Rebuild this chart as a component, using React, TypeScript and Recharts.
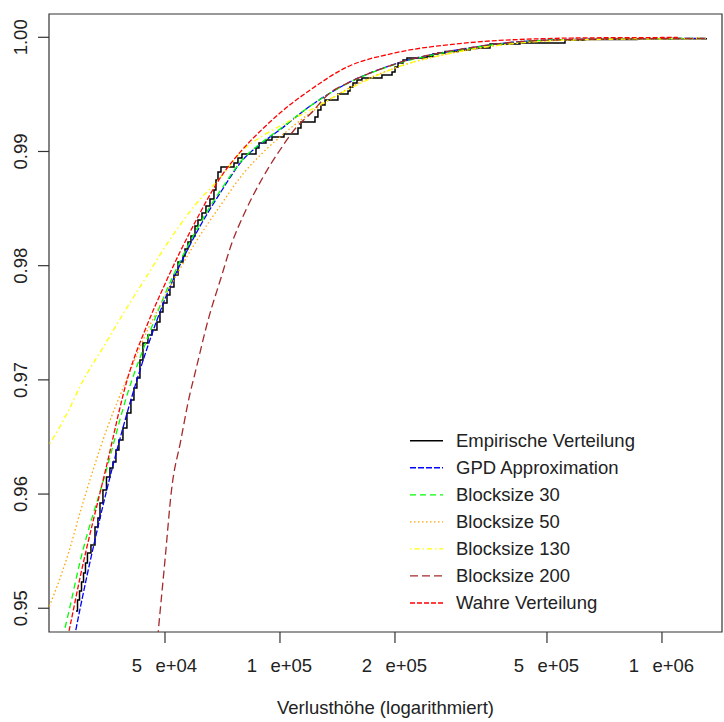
import { LineChart, Line, XAxis, YAxis, ReferenceArea, Legend } from "recharts";

document.body.style.margin = "0";

// axis ranges and ticks
const xMin = 24850;
const xMax = 1436000;
const yMin = 0.94792;
const yMax = 1.00204;
const xTicks = [50000, 100000, 200000, 500000, 1000000];
const xTickLabels = ["5  e+04", "1  e+05", "2  e+05", "5  e+05", "1  e+06"];
const yTicks = [0.95, 0.96, 0.97, 0.98, 0.99, 1.0];
const yTickLabels = ["0.95", "0.96", "0.97", "0.98", "0.99", "1.00"];

// fitted / true distribution curves
const lossGrid = [24000, 28000, 30000, 35000, 40000, 45000, 50000, 60000, 70000, 80000, 90000, 100000, 120000, 150000, 200000, 300000, 500000, 700000, 1000000, 1100000, 1310000];
const gpdProb = [0.93507, 0.94496, 0.95003, 0.96002, 0.96736, 0.97288, 0.97708, 0.98269, 0.98645, 0.98928, 0.99078, 0.99191, 0.99398, 0.99597, 0.99766, 0.99897, 0.99976, 0.99985, 0.99989, 0.9999, 0.99991];
const block30Prob = [0.94066, 0.94968, 0.95414, 0.96193, 0.96893, 0.97366, 0.97751, 0.98295, 0.98663, 0.98934, 0.99083, 0.99197, 0.99398, 0.99595, 0.99762, 0.99893, 0.99975, 0.99984, 0.99989, 0.9999, 0.99991];
const block50Prob = [0.94888, 0.95493, 0.95843, 0.96544, 0.97032, 0.97435, 0.97733, 0.98199, 0.98532, 0.98803, 0.98987, 0.99127, 0.99337, 0.99547, 0.99731, 0.9988, 0.99968, 0.99982, 0.99987, 0.99988, 0.9999];
const block130Prob = [0.9635, 0.96736, 0.96946, 0.97323, 0.97647, 0.97918, 0.98164, 0.98532, 0.98777, 0.99013, 0.99136, 0.99223, 0.99363, 0.99539, 0.99731, 0.9988, 0.99968, 0.99982, 0.99987, 0.99988, 0.9999];
const trueProb = [0.93848, 0.94793, 0.95276, 0.9622, 0.97025, 0.97489, 0.9784, 0.98383, 0.98777, 0.99022, 0.99197, 0.99337, 0.99539, 0.9974, 0.99863, 0.99947, 0.99989, 0.99996, 0.99998, 0.99999, null];

// blocksize 200 has its own grid (steep at the bottom)
const block200Loss = [45000, 48000, 50000, 52000, 55000, 58000, 60000, 65000, 70000, 75000, 80000, 90000, 100000, 110000, 120000, 135000, 150000, 200000, 300000, 500000, 1000000, 1310000];
const block200Prob = [0.9369, 0.94793, 0.95421, 0.96033, 0.9647, 0.96865, 0.97066, 0.97537, 0.97888, 0.98208, 0.98431, 0.98768, 0.99013, 0.99206, 0.99328, 0.99512, 0.99597, 0.99766, 0.99898, 0.99975, 0.99989, 0.99991];

// empirical distribution (step points)
const empLoss = [29240, 29510, 29870, 30230, 30600, 30960, 31330, 32000, 32790, 33380, 33790, 34400, 35140, 35880, 36540, 37200, 37880, 38810, 39750, 40720, 41470, 42220, 43000, 43780, 45120, 46220, 47640, 48510, 49400, 50610, 51520, 52780, 54080, 55730, 56410, 57430, 58480, 59910, 61000, 62490, 64010, 65570, 67170, 67980, 68820, 70070, 75790, 77620, 79520, 86540, 88100, 91900, 95300, 102450, 111460, 113500, 123500, 125700, 128000, 131200, 141800, 150700, 152500, 155300, 159100, 163900, 184900, 196500, 200100, 203700, 209900, 215000, 242500, 251500, 259200, 270400, 292400, 314400, 327900, 354600, 424900, 557400, 628700, 860100, 1312000];
const empProb = [0.94976, 0.95073, 0.95151, 0.9523, 0.95309, 0.95397, 0.95484, 0.95554, 0.95712, 0.95791, 0.95922, 0.96036, 0.9615, 0.96229, 0.96281, 0.96386, 0.96474, 0.96579, 0.9671, 0.96824, 0.96929, 0.97017, 0.97174, 0.97323, 0.97393, 0.97437, 0.97507, 0.97595, 0.97673, 0.97743, 0.97813, 0.97919, 0.98032, 0.98085, 0.98146, 0.98208, 0.9826, 0.98348, 0.984, 0.98461, 0.98523, 0.98584, 0.98663, 0.9875, 0.9882, 0.98864, 0.98899, 0.98943, 0.98978, 0.99031, 0.99074, 0.99101, 0.99127, 0.99153, 0.99206, 0.99258, 0.99302, 0.99363, 0.99407, 0.99451, 0.99503, 0.9953, 0.99565, 0.996, 0.99626, 0.99644, 0.9967, 0.99696, 0.9974, 0.99775, 0.99801, 0.99819, 0.99832, 0.99854, 0.99863, 0.99876, 0.99889, 0.99902, 0.99906, 0.99941, 0.9995, 0.99976, 0.99981, 0.99988, 0.99988];

const seriesNames = ["Empirische Verteilung", "GPD Approximation", "Blocksize 30", "Blocksize 50", "Blocksize 130", "Blocksize 200", "Wahre Verteilung"];
const seriesColors = ["#000000", "#0000ff", "#00ff00", "#ffa500", "#ffff00", "#a52a2a", "#ff0000"];
const seriesDashes = [undefined, "6 2", "6 4", "1.5 2.5", "1.5 3 5 3", "8 4", "5 2"];

const FONT = "'Liberation Sans', Arial, sans-serif";
const FS = 18.5;

const curveData = lossGrid.map((loss, i) => ({
  loss,
  gpd: gpdProb[i],
  b30: block30Prob[i],
  b50: block50Prob[i],
  b130: block130Prob[i],
  wahr: trueProb[i],
}));
const block200Data = block200Loss.map((loss, i) => ({ loss, b200: block200Prob[i] }));
const empData = empLoss.map((loss, i) => ({ loss, emp: empProb[i] }));

const XTick = ({ x, y, payload }: any) => {
  const label = xTickLabels[xTicks.indexOf(payload.value)] || "";
  const [mant, expo] = label.split(/\s+/);
  return (
    <text y={y + 28.5} fontFamily={FONT} fontSize={FS} fill="#222">
      <tspan x={x - 23} textAnchor="end">{mant}</tspan>
      <tspan x={x - 9.5} textAnchor="start">{expo}</tspan>
    </text>
  );
};

const YTick = ({ x, y, payload }: any) => {
  const idx = yTicks.findIndex((t) => Math.abs(t - Number(payload.value)) < 1e-6);
  const label = yTickLabels[idx] || "";
  const cx = x - 17;
  return (
    <text
      x={cx}
      y={y}
      dy="0.35em"
      transform={`rotate(-90 ${cx} ${y})`}
      textAnchor="middle"
      fontFamily={FONT}
      fontSize={FS}
      fill="#222"
    >
      {label}
    </text>
  );
};

const renderLegend = () => (
  <svg width={320} height={200}>
    {seriesNames.map((name, i) => {
      const cy = 15.7 + i * 27.05;
      return (
        <g key={name}>
          <line x1={10} x2={43} y1={cy} y2={cy} stroke={seriesColors[i]} strokeWidth={i === 0 ? 1.5 : 1.3} strokeDasharray={seriesDashes[i]} />
          <text x={56} y={cy} dy="0.35em" fontFamily={FONT} fontSize={FS} fill="#222">
            {name}
          </text>
        </g>
      );
    })}
  </svg>
);

export default function App() {
  return (
    <div style={{ width: 724, height: 722, background: "#fff" }}>
      <LineChart width={724} height={722} margin={{ top: 14, right: 2, bottom: 0, left: 0 }}>
        <XAxis
          dataKey="loss"
          type="number"
          scale="log"
          domain={[xMin, xMax]}
          allowDataOverflow
          ticks={xTicks}
          tick={<XTick />}
          tickSize={11}
          tickMargin={0}
          tickLine={{ stroke: "#333", strokeWidth: 1.2 }}
          axisLine={false}
          height={90}
          interval={0}
          label={{ value: "Verlusthöhe (logarithmiert)", position: "insideBottom", offset: 8, fontFamily: FONT, fontSize: FS, fill: "#222" }}
        />
        <YAxis
          type="number"
          domain={[yMin, yMax]}
          allowDataOverflow
          ticks={yTicks}
          tick={<YTick />}
          tickSize={11}
          tickMargin={0}
          tickLine={{ stroke: "#333", strokeWidth: 1.2 }}
          axisLine={false}
          width={49}
          interval={0}
        />
        <ReferenceArea x1={xMin} x2={xMax} y1={yMin} y2={yMax} fill="none" stroke="#333" strokeWidth={1.2} fillOpacity={0} />
        <Line data={empData} dataKey="emp" type="stepAfter" stroke={seriesColors[0]} strokeWidth={1.5} dot={false} isAnimationActive={false} />
        <Line data={curveData} dataKey="gpd" type="monotone" stroke={seriesColors[1]} strokeWidth={1.3} strokeDasharray={seriesDashes[1]} dot={false} isAnimationActive={false} />
        <Line data={curveData} dataKey="b30" type="monotone" stroke={seriesColors[2]} strokeWidth={1.3} strokeDasharray={seriesDashes[2]} dot={false} isAnimationActive={false} />
        <Line data={curveData} dataKey="b50" type="monotone" stroke={seriesColors[3]} strokeWidth={1.3} strokeDasharray={seriesDashes[3]} dot={false} isAnimationActive={false} />
        <Line data={curveData} dataKey="b130" type="monotone" stroke={seriesColors[4]} strokeWidth={1.3} strokeDasharray={seriesDashes[4]} dot={false} isAnimationActive={false} />
        <Line data={block200Data} dataKey="b200" type="monotone" stroke={seriesColors[5]} strokeWidth={1.3} strokeDasharray={seriesDashes[5]} dot={false} isAnimationActive={false} />
        <Line data={curveData} dataKey="wahr" type="monotone" stroke={seriesColors[6]} strokeWidth={1.3} strokeDasharray={seriesDashes[6]} dot={false} isAnimationActive={false} />
        <Legend
          layout="vertical"
          align="center"
          verticalAlign="middle"
          content={renderLegend}
          wrapperStyle={{ left: 400, top: 425, width: 320, height: 200 }}
        />
      </LineChart>
    </div>
  );
}
